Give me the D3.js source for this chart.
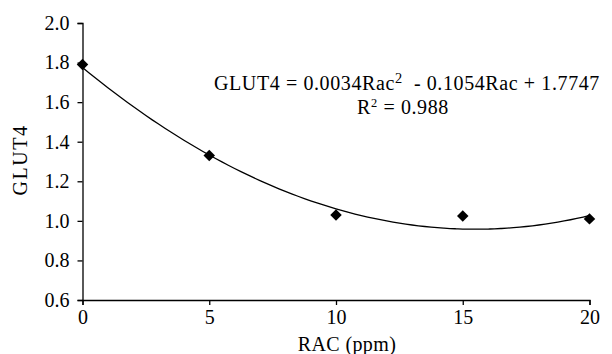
<!DOCTYPE html>
<html><head><meta charset="utf-8">
<script src="https://cdn.jsdelivr.net/npm/d3@7"></script>
<style>body{margin:0;background:#fff}svg{display:block}text{font-family:"Liberation Serif","Times New Roman",serif;fill:#000}</style>
</head><body><svg id="c" width="612" height="354"></svg>
<script>
const racValues = [0, 5, 10, 15, 20];
const glut4Values = [1.79, 1.33, 1.03, 1.025, 1.01];
const xTicks = [0, 5, 10, 15, 20];
const yTicks = [0.6, 0.8, 1.0, 1.2, 1.4, 1.6, 1.8, 2.0];
const trendCoefs = [0.0034, -0.1054, 1.7747]; // a, b, c

const svg = d3.select("#c");
const x = d3.scaleLinear().domain([0, 20]).range([82.5, 589.5]);
const y = d3.scaleLinear().domain([0.6, 2.0]).range([300, 23]);
const fs = 20, efs = 20;

const xa = svg.append("g").attr("transform", "translate(0,300)")
  .call(d3.axisBottom(x).tickValues(xTicks).tickSize(5).tickPadding(5).tickFormat(d3.format("d")));
const ya = svg.append("g").attr("transform", "translate(82.5,0)")
  .call(d3.axisLeft(y).tickValues(yTicks).tickSize(5).tickPadding(8).tickFormat(d3.format(".1f")));
[xa, ya].forEach(a => {
  a.select(".domain").attr("stroke", "#000").attr("stroke-width", 1.3);
  a.selectAll(".tick line").attr("stroke", "#000").attr("stroke-width", 1.3);
  a.selectAll("text").style("font-family", '"Liberation Serif",serif').style("font-size", fs + "px").attr("fill", "#000");
});

svg.append("text").attr("x", 347).attr("y", 351).attr("text-anchor", "middle")
  .style("font-size", fs + "px").style("letter-spacing", "0.4px").text("RAC (ppm)");
svg.append("text").attr("transform", "translate(27,160) rotate(-90)").attr("text-anchor", "middle")
  .style("font-size", fs + "px").style("letter-spacing", "1.5px").text("GLUT4");

// trendline
const f = v => trendCoefs[0] * v * v + trendCoefs[1] * v + trendCoefs[2];
const xs = d3.range(0, 20.001, 0.25);
svg.append("path").datum(xs)
  .attr("d", d3.line().x(d => x(d)).y(d => y(f(d))).curve(d3.curveMonotoneX))
  .attr("fill", "none").attr("stroke", "#000").attr("stroke-width", 1.3);

// markers
svg.selectAll(".pt").data(racValues).join("path")
  .attr("d", d3.symbol().type(d3.symbolSquare).size(66))
  .attr("transform", (d, i) => `translate(${x(d)},${y(glut4Values[i])}) rotate(45)`)
  .attr("fill", "#000");

// equation
const eq = svg.append("text").attr("x", 214).attr("y", 90).style("font-size", efs + "px")
  .style("letter-spacing", "0.6px").style("white-space", "pre");
eq.append("tspan").text("GLUT4 = 0.0034Rac");
eq.append("tspan").attr("dy", -7).style("font-size", (efs * 0.72) + "px").text("2");
eq.append("tspan").attr("dy", 7).text("  - 0.1054Rac + 1.7747");
const r2 = svg.append("text").attr("x", 403).attr("y", 114).attr("text-anchor", "middle").style("font-size", efs + "px").style("letter-spacing", "0.6px");
r2.append("tspan").text("R");
r2.append("tspan").attr("dy", -7).style("font-size", (efs * 0.62) + "px").text("2");
r2.append("tspan").attr("dy", 7).text(" = 0.988");
</script></body></html>
